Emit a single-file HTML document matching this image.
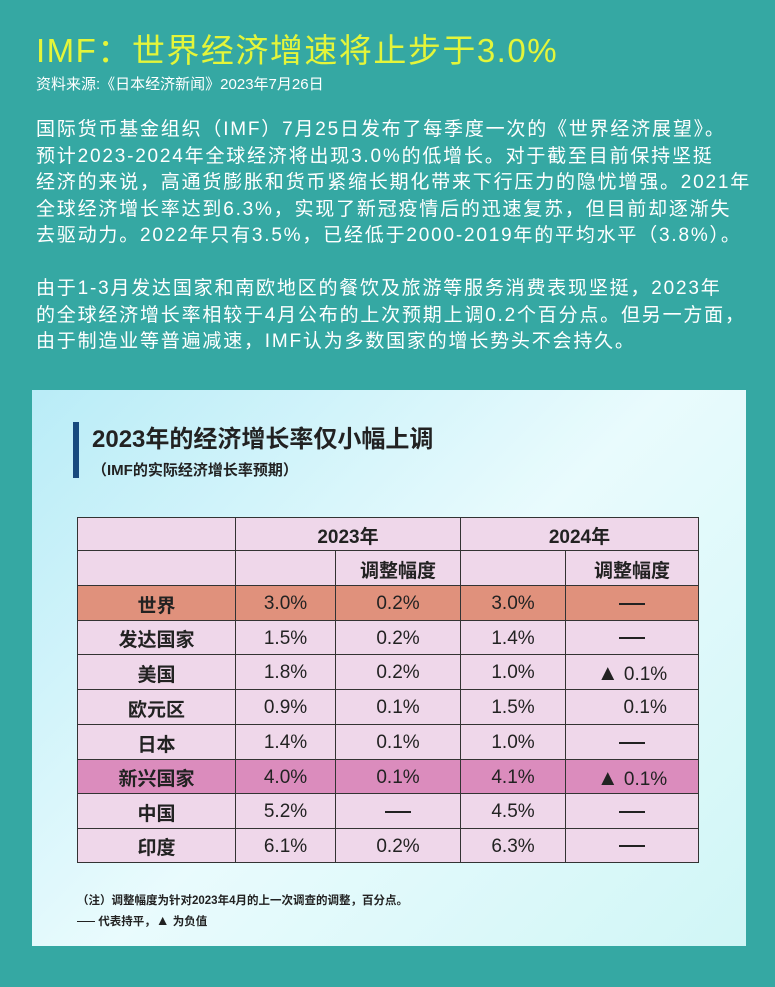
<!DOCTYPE html>
<html><head><meta charset="utf-8">
<style>
body{margin:0;width:775px;height:987px;background:#35a8a3;position:relative;overflow:hidden;font-family:"Liberation Sans","Noto Sans CJK SC",sans-serif;}
.t{position:absolute;left:36px;top:24px;font-size:33px;color:#e4f53a;white-space:nowrap;letter-spacing:1.5px;}
.src{position:absolute;left:36px;top:73px;font-size:15px;color:#fff;}
.p{position:absolute;left:36px;font-size:19px;color:#fff;line-height:26.5px;white-space:nowrap;letter-spacing:1.8px;}
.panel{position:absolute;left:32px;top:390px;width:714px;height:556px;background:linear-gradient(135deg,#b9ecf7 0%,#e9fbfd 50%,#d0f6f6 100%);}
.bar{position:absolute;left:73px;top:422px;width:6px;height:56px;background:#174a7e;}
.h{position:absolute;left:92px;top:419px;font-size:24px;font-weight:bold;color:#222;}
.sh{position:absolute;left:92px;top:459px;font-size:15px;font-weight:bold;color:#222;}
table{position:absolute;left:77px;top:517px;border-collapse:collapse;font-size:19px;color:#222;}
td{border:1.5px solid #333;text-align:center;padding:2px 0 0 0;background:#efd7ea;}
td.b{font-weight:bold;}
tr.w td{background:#e0917c;}
tr.e td{background:#db8cbd;}
.d{display:inline-block;width:26px;height:2px;background:#222;vertical-align:middle;}
.tri{font-size:22px;}
.n{position:absolute;left:77px;font-size:11.5px;font-weight:bold;color:#222;}
</style></head><body>
<div class="t">IMF：世界经济增速将止步于3.0%</div>
<div class="src">资料来源:《日本经济新闻》2023年7月26日</div>
<div class="p" style="top:117px">国际货币基金组织（IMF）7月25日发布了每季度一次的《世界经济展望》。<br>预计2023-2024年全球经济将出现3.0%的低增长。对于截至目前保持坚挺<br>经济的来说，高通货膨胀和货币紧缩长期化带来下行压力的隐忧增强。2021年<br>全球经济增长率达到6.3%，实现了新冠疫情后的迅速复苏，但目前却逐渐失<br>去驱动力。2022年只有3.5%，已经低于2000-2019年的平均水平（3.8%）。</div>
<div class="p" style="top:276px">由于1-3月发达国家和南欧地区的餐饮及旅游等服务消费表现坚挺，2023年<br>的全球经济增长率相较于4月公布的上次预期上调0.2个百分点。但另一方面，<br>由于制造业等普遍减速，IMF认为多数国家的增长势头不会持久。</div>
<div class="panel"></div>
<div class="bar"></div>
<div class="h">2023年的经济增长率仅小幅上调</div>
<div class="sh">（IMF的实际经济增长率预期）</div>
<table>
<colgroup><col style="width:158px"><col style="width:100px"><col style="width:125px"><col style="width:105px"><col style="width:133px"></colgroup>
<tr style="height:33px"><td></td><td colspan="2" class="b">2023年</td><td colspan="2" class="b">2024年</td></tr>
<tr style="height:35px"><td></td><td></td><td class="b">调整幅度</td><td></td><td class="b">调整幅度</td></tr>
<tr class="w" style="height:35px"><td class="b">世界</td><td>3.0%</td><td>0.2%</td><td>3.0%</td><td><span class="d"></span></td></tr>
<tr style="height:34px"><td class="b">发达国家</td><td>1.5%</td><td>0.2%</td><td>1.4%</td><td><span class="d"></span></td></tr>
<tr style="height:35px"><td class="b">美国</td><td>1.8%</td><td>0.2%</td><td>1.0%</td><td><span class="tri">▲</span> 0.1%</td></tr>
<tr style="height:35px"><td class="b">欧元区</td><td>0.9%</td><td>0.1%</td><td>1.5%</td><td>&nbsp;&nbsp;&nbsp;&nbsp;&nbsp;0.1%</td></tr>
<tr style="height:35px"><td class="b">日本</td><td>1.4%</td><td>0.1%</td><td>1.0%</td><td><span class="d"></span></td></tr>
<tr class="e" style="height:34px"><td class="b">新兴国家</td><td>4.0%</td><td>0.1%</td><td>4.1%</td><td><span class="tri">▲</span> 0.1%</td></tr>
<tr style="height:35px"><td class="b">中国</td><td>5.2%</td><td><span class="d"></span></td><td>4.5%</td><td><span class="d"></span></td></tr>
<tr style="height:34px"><td class="b">印度</td><td>6.1%</td><td>0.2%</td><td>6.3%</td><td><span class="d"></span></td></tr>
</table>
<div class="n" style="top:892px">（注）调整幅度为针对2023年4月的上一次调查的调整，百分点。</div>
<div class="n" style="top:912px"><span class="d" style="width:18px;height:1px"></span> 代表持平，<span style="font-size:14px">▲</span> 为负值</div>
</body></html>
